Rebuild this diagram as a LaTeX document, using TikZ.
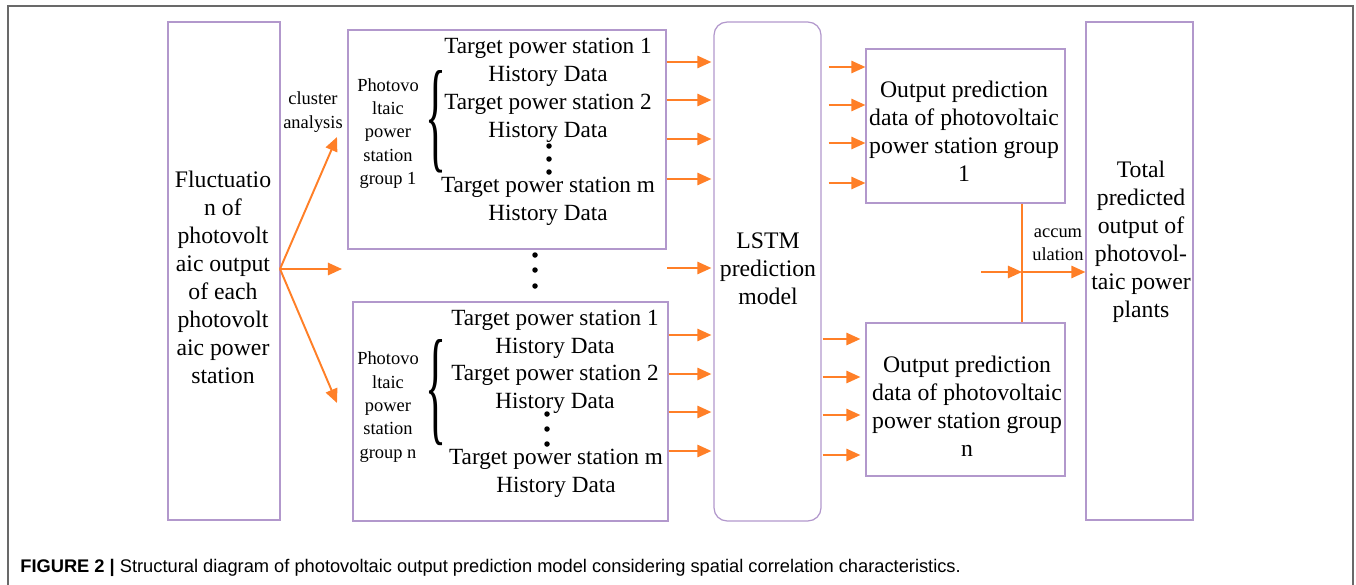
\documentclass[tikz,border=0pt]{standalone}
\usepackage{fontspec}
\setmainfont{Liberation Serif}
\newfontfamily\serifface{Liberation Serif}
\newfontfamily\capfont{Liberation Sans}
\usetikzlibrary{arrows.meta}
\definecolor{boxpurple}{RGB}{178,152,204}
\definecolor{arrorange}{RGB}{255,127,39}
\definecolor{framegray}{RGB}{105,105,105}
\tikzset{
  box/.style={draw=boxpurple, line width=0.7pt, inner sep=0pt, fill=none},
  arr/.style={draw=arrorange, line width=1.1pt, -{Triangle[length=8pt,width=7pt]}},
  oline/.style={draw=arrorange, line width=1.1pt},
  big/.style={align=center, inner sep=0pt, font=\serifface\fontsize{13.5}{15.9}\selectfont},
  mid/.style={align=center, inner sep=0pt, font=\serifface\fontsize{13.2}{15.9}\selectfont},
  small/.style={align=center, inner sep=0pt, font=\serifface\fontsize{10.5}{13.3}\selectfont},
  bracestyle/.style={inner sep=0pt, font=\serifface\fontsize{13}{15}\selectfont},
  dotc/.style={circle, fill=black, inner sep=0pt, minimum size=0.11cm},
}
\begin{document}
\begin{tikzpicture}[x=0.02cm,y=-0.02cm]
\useasboundingbox (0,0) rectangle (1356,585);
% outer frame
\draw[framegray, line width=0.6pt] (8,585) -- (8,6) -- (1353,6) -- (1353,585);

% boxes
\node[box, minimum width=2.24cm, minimum height=9.96cm] (lf) at (224,271) {};
\node[box, minimum width=6.36cm, minimum height=4.38cm] (g1) at (507,139.5) {};
\node[box, minimum width=6.30cm, minimum height=4.38cm] (gn) at (510.5,411.5) {};
\node[box, rounded corners=0.26cm, minimum width=2.14cm, minimum height=9.98cm] (lstm) at (767.5,271.5) {};
\node[box, minimum width=3.98cm, minimum height=3.08cm] (o1) at (965.5,126) {};
\node[box, minimum width=3.98cm, minimum height=3.06cm] (on) at (965.5,399.5) {};
\node[box, minimum width=2.14cm, minimum height=9.96cm] (tot) at (1139.5,271) {};

% texts
\node[big] (lft) at (223,277.5) {Fluctuatio\\n of\\photovolt\\aic output\\of each\\photovolt\\aic power\\station};
\node[big] (lstmt) at (768,268.5) {LSTM\\prediction\\model};
\node[big] (o1t) at (964,131.5) {Output prediction\\data of photovoltaic\\power station group\\1};
\node[big] (ont) at (967,406) {Output prediction\\data of photovoltaic\\power station group\\n};
\node[big] (tott) at (1141,242) {Total\\predicted\\output of\\photovol-\\taic power\\plants};

\node[small] (cl) at (313,112) {cluster\\analysis};
\node[small] (acc) at (1058,244.5) {accum\\ulation};

% group 1
\node[small] (p1) at (388,133.5) {Photovo\\ltaic\\power\\station\\group 1};
\node[bracestyle] (b1) at (436,121.5) {\resizebox{0.42cm}{1.72cm}{\{}};
\node[mid] (g1a) at (548,62) {Target power station 1\\History Data};
\node[mid] (g1b) at (548,118) {Target power station 2\\History Data};
\node[mid] (g1c) at (548,201.5) {Target power station m\\History Data};
\node[dotc] (d11) at (549,146) {};
\node[dotc] (d12) at (549,159) {};
\node[dotc] (d13) at (549,172) {};

% dots between groups
\node[dotc] (m1) at (535,255) {};
\node[dotc] (m2) at (535,270) {};
\node[dotc] (m3) at (535,286) {};

% group n
\node[small] (pn) at (388,407) {Photovo\\ltaic\\power\\station\\group n};
\node[bracestyle] (bn) at (436,393) {\resizebox{0.42cm}{1.78cm}{\{}};
\node[mid] (gna) at (555,334) {Target power station 1\\History Data};
\node[mid] (gnb) at (555,389.5) {Target power station 2\\History Data};
\node[mid] (gnc) at (556,473.5) {Target power station m\\History Data};
\node[dotc] (dn1) at (547,414) {};
\node[dotc] (dn2) at (547,429) {};
\node[dotc] (dn3) at (547,444) {};

% fan arrows
\coordinate (fo) at (280,269);
\coordinate (fu) at (337,137);
\coordinate (fm) at (342,269);
\coordinate (fd) at (337,403);
\draw[arr] (fo) -- (fu);
\draw[arr] (fo) -- (fm);
\draw[arr] (fo) -- (fd);

% group -> LSTM
\foreach \yy in {62,100,139,179}{
  \draw[arr, shorten >=0.04cm] (g1.east |- 0,\yy) -- (lstm.west |- 0,\yy);
}
\coordinate (gm) at (667,268);
\draw[arr, shorten >=0.04cm] (gm) -- (lstm.west |- gm);
\foreach \yy in {335,374,412,451}{
  \draw[arr, shorten >=0.04cm] (gn.east |- 0,\yy) -- (lstm.west |- 0,\yy);
}

% LSTM -> outputs
\foreach \yy in {67,105,143,183}{
  \draw[arr, shorten <=0.14cm] (lstm.east |- 0,\yy) -- (o1.west |- 0,\yy);
}
\foreach \yy in {339,377,415,455}{
  \draw[arr, shorten <=0.02cm, shorten >=0.1cm] (lstm.east |- 0,\yy) -- (on.west |- 0,\yy);
}

% accumulation
\coordinate (j) at (1022,272);
\coordinate (ain) at (981,272);
\draw[oline] (o1.south -| j) -- (on.north -| j);
\draw[arr] (ain) -- (j);
\draw[arr] (j) -- (tot.west |- j);

% caption
\node[anchor=west, inner sep=0pt, font=\capfont\fontsize{10.4}{12}\selectfont] (cap) at (20,568)
  {\textbf{FIGURE 2 |} Structural diagram of photovoltaic output prediction model considering spatial correlation characteristics.};
\end{tikzpicture}
\end{document}
